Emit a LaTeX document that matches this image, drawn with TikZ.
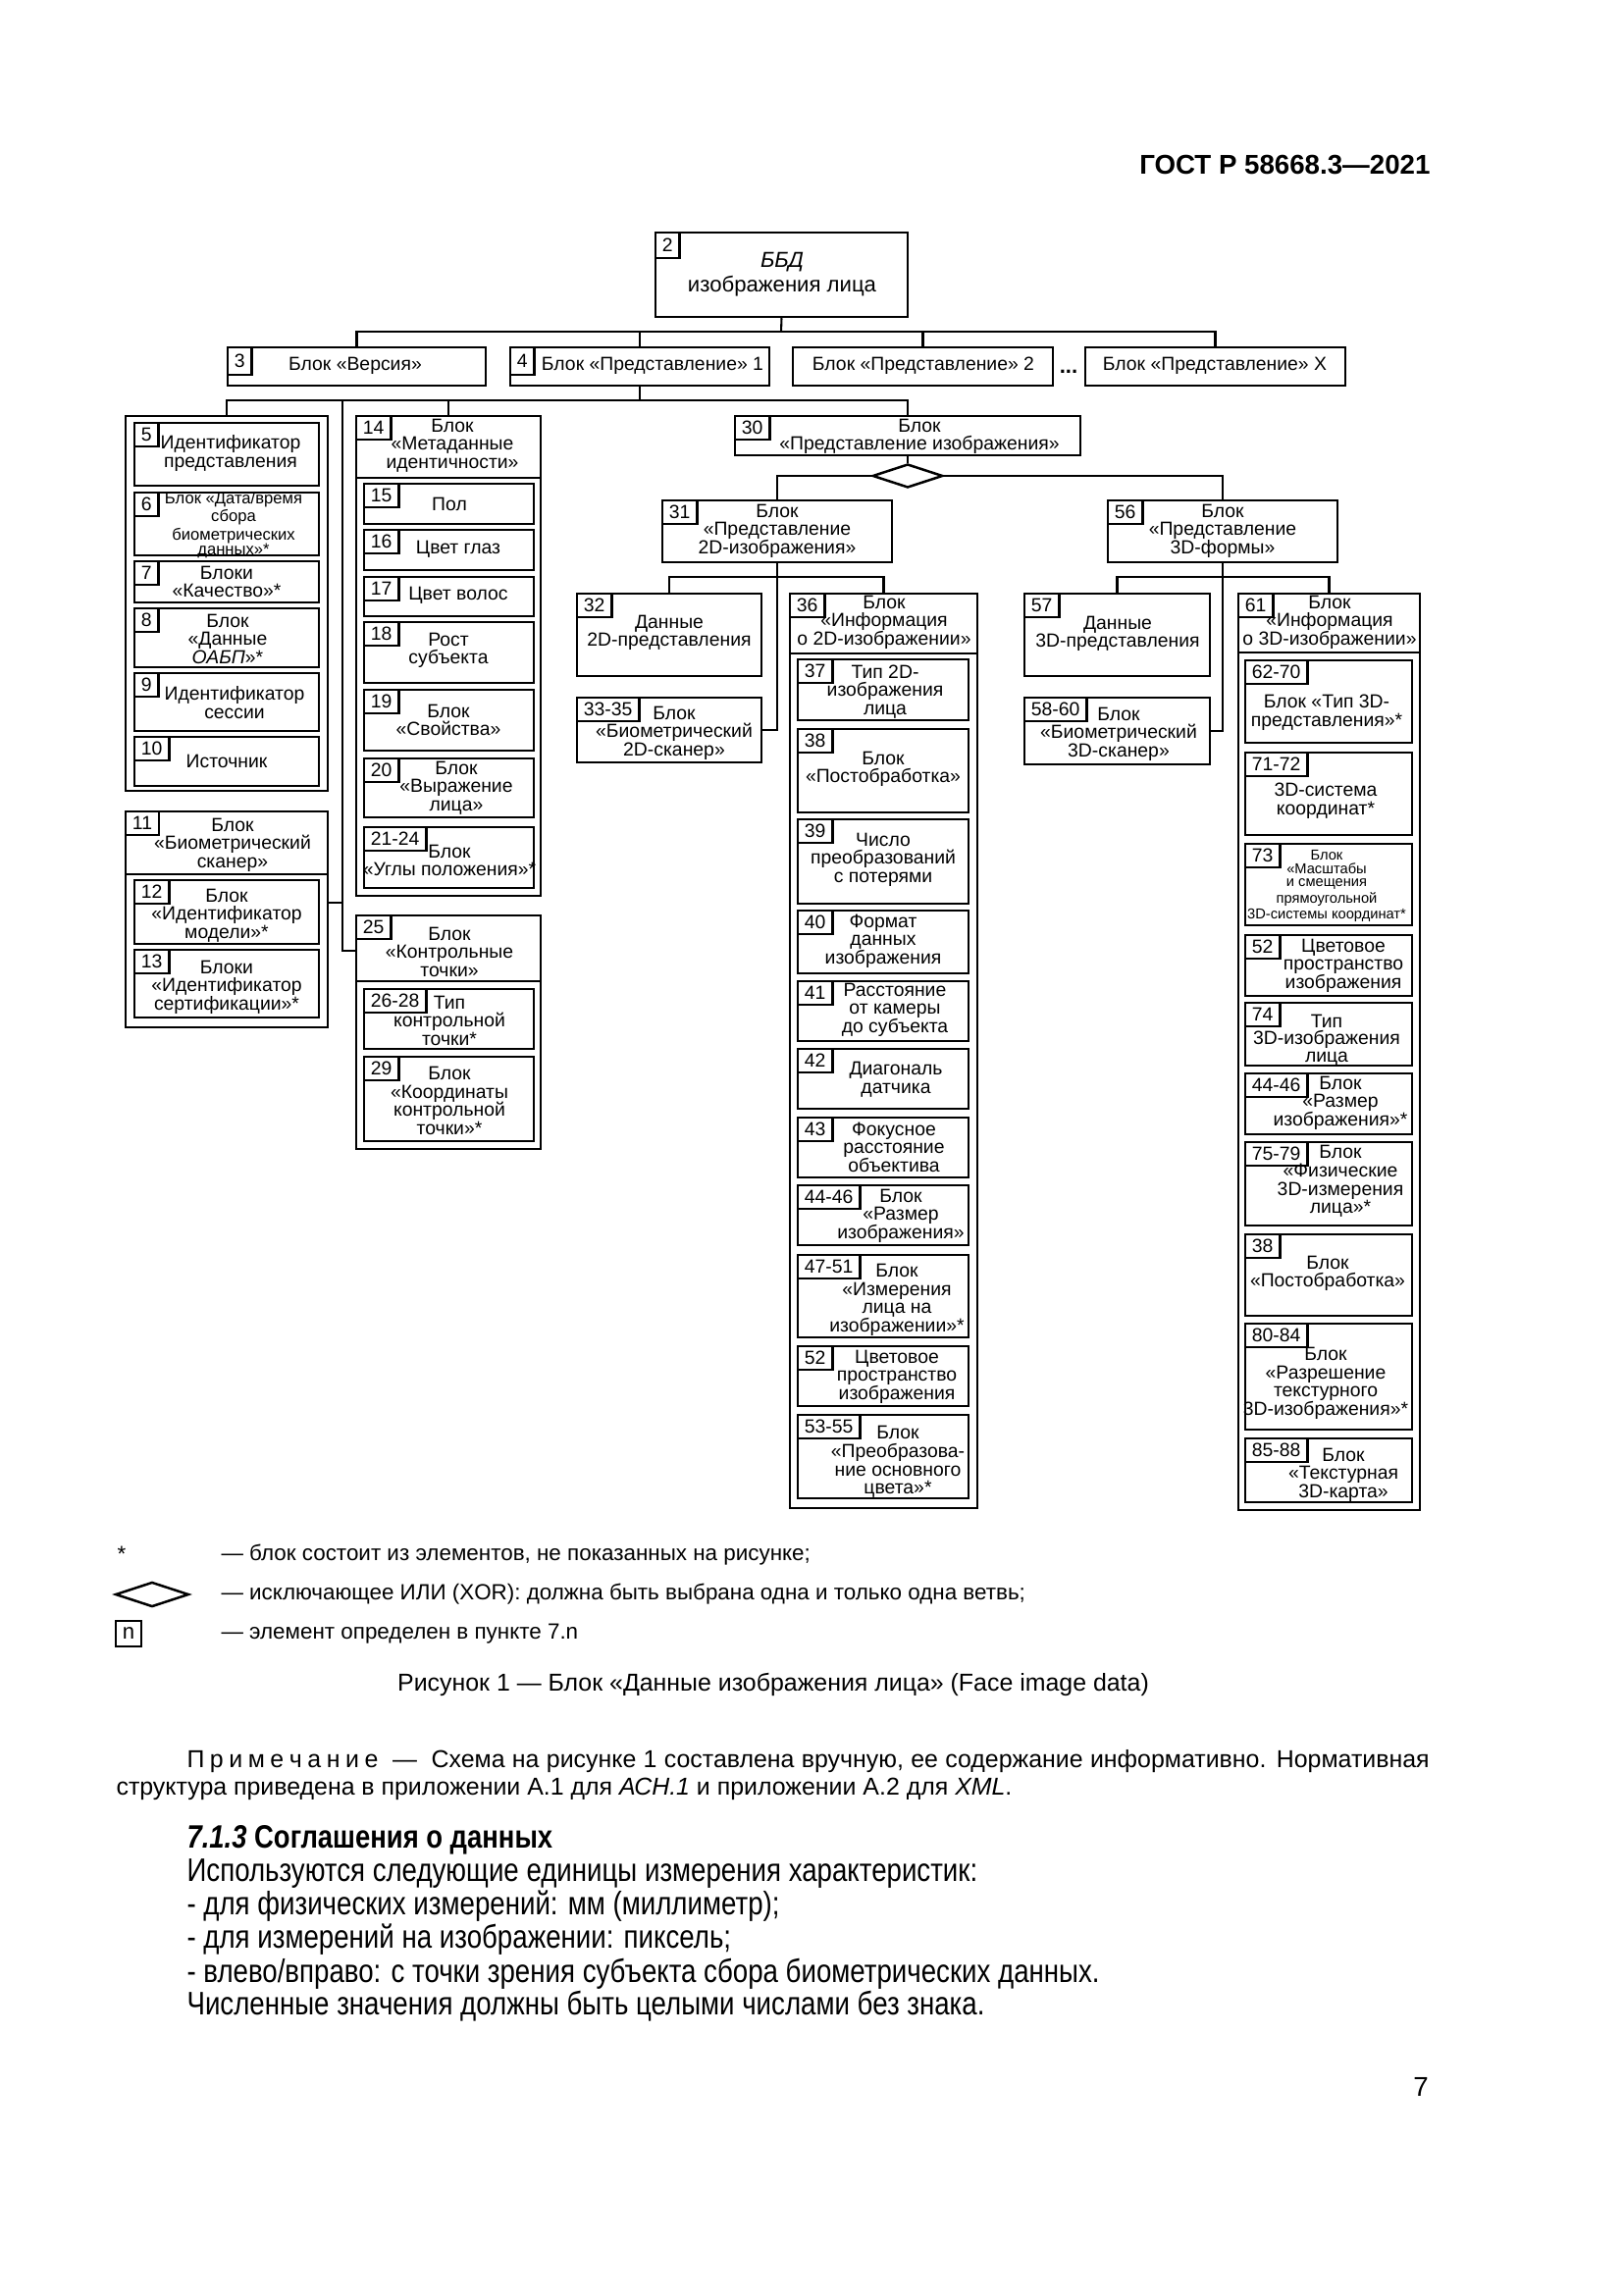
\documentclass[tikz,border=0pt]{standalone}
\usepackage{fontspec}
\setmainfont{Liberation Sans}
\newfontfamily\bodyfont{Liberation Sans}[FakeStretch=0.833]
\usetikzlibrary{fit,shapes.geometric}

\tikzset{
  box/.style={draw, line width=0.9pt, inner sep=0pt},
  tag/.style={draw, line width=0.9pt, anchor=north west, inner xsep=2.5pt, inner ysep=0pt, minimum height=3.05mm, font=\fontsize{7}{7}\selectfont},
  txt/.style={align=center, inner sep=0pt, font=\fontsize{7}{6.7}\selectfont},
  txtsmall/.style={align=center, inner sep=0pt, font=\fontsize{6}{5.4}\selectfont},
  txttiny/.style={align=center, inner sep=0pt, font=\fontsize{5.3}{4.8}\selectfont},
  link/.style={line width=0.75pt},
  xor/.style={draw, line width=0.9pt, shape=diamond, aspect=3, inner sep=0pt, minimum width=9.1mm, minimum height=3.05mm},
  legtext/.style={anchor=west, inner sep=0pt, font=\fontsize{8.1}{10}\selectfont},
  bodyline/.style={anchor=west, inner sep=0pt, font=\bodyfont\fontsize{12}{14}\selectfont},
}

\begin{document}
\begin{tikzpicture}[x=0.127mm, y=-0.127mm]
\useasboundingbox (0,0) rectangle (1654,2339);
\fill[white] (0,0) rectangle (1654,2339);

\node[anchor=east, inner sep=0pt, font=\bfseries\fontsize{10}{12}\selectfont] (hdr) at (1458,168) {ГОСТ Р 58668.3—2021};

\node[box, fit={(668,237) (925,323)}] (b2) {};
\node[tag, minimum height=3.3mm] (t2) at (b2.north west) {2};
\node[txt, font=\fontsize{8}{9}\selectfont] (l2) at (797,280) {\textit{ББД}\\изображения лица};

\node[box, fit={(232,354) (495,393)}] (b3) {};
\node[tag, minimum height=3.56mm] (t3) at (b3.north west) {3};
\node[txt] (l3) at (362,373) {Блок «Версия»};
\node[box, fit={(520,354) (784,393)}] (b4) {};
\node[tag, minimum height=3.56mm] (t4) at (b4.north west) {4};
\node[txt] (l4) at (665,373) {Блок «Представление» 1};
\node[box, fit={(808,354) (1073,393)}] (bR2) {};
\node[txt] (lR2) at (941,373) {Блок «Представление» 2};
\node[box, fit={(1106,354) (1371,393)}] (bRX) {};
\node[txt] (lRX) at (1238,373) {Блок «Представление» X};
\node[inner sep=0pt, font=\bfseries\fontsize{8}{8}\selectfont] (dots) at (1089,379) {...};

\coordinate (j1) at (796,338);
\draw[link] (b2.south) -- (j1);
\draw[link] (b3.north) |- (j1) -| (bRX.north);
\draw[link] (b4.north) -- (b4.north |- j1);
\draw[link] (bR2.north) -- (bR2.north |- j1);

\node[box, fit={(128,424) (334,806)}] (gA) {};
\node[box, fit={(137,431) (325,495)}] (b5) {};
\node[tag] (t5) at (b5.north west) {5};
\node[txt] (l5) at (235,462) {Идентификатор\\представления};
\node[box, fit={(137,502) (325,566)}] (b6) {};
\node[tag] (t6) at (b6.north west) {6};
\node[txtsmall] (l6) at (238,535) {Блок «Дата/время\\сбора\\биометрических\\данных»*};
\node[box, fit={(137,572) (325,614)}] (b7) {};
\node[tag] (t7) at (b7.north west) {7};
\node[txt] (l7) at (231,593) {Блоки\\«Качество»*};
\node[box, fit={(137,620) (325,680)}] (b8) {};
\node[tag] (t8) at (b8.north west) {8};
\node[txt] (l8) at (232,651) {Блок\\«Данные\\\textit{ОАБП}»*};
\node[box, fit={(137,686) (325,745)}] (b9) {};
\node[tag] (t9) at (b9.north west) {9};
\node[txt] (l9) at (239,716) {Идентификатор\\сессии};
\node[box, fit={(137,751) (325,801)}] (b10) {};
\node[tag] (t10) at (b10.north west) {10};
\node[txt] (l10) at (231,776) {Источник};

\node[box, fit={(363,424) (551,913)}] (gB) {};
\node[box, fit={(363,424) (551,487)}] (h14) {};
\node[tag] (t14) at (h14.north west) {14};
\node[txt] (l14) at (461,454) {Блок\\«Метаданные\\идентичности»};
\node[box, fit={(371,493) (544,534)}] (b15) {};
\node[tag] (t15) at (b15.north west) {15};
\node[txt] (l15) at (458,514) {Пол};
\node[box, fit={(371,540) (544,581)}] (b16) {};
\node[tag] (t16) at (b16.north west) {16};
\node[txt] (l16) at (467,560) {Цвет глаз};
\node[box, fit={(371,588) (544,628)}] (b17) {};
\node[tag] (t17) at (b17.north west) {17};
\node[txt] (l17) at (467,607) {Цвет волос};
\node[box, fit={(371,634) (544,696)}] (b18) {};
\node[tag] (t18) at (b18.north west) {18};
\node[txt] (l18) at (457,663) {Рост\\субъекта};
\node[box, fit={(371,703) (544,765)}] (b19) {};
\node[tag] (t19) at (b19.north west) {19};
\node[txt] (l19) at (457,734) {Блок\\«Свойства»};
\node[box, fit={(371,773) (544,833)}] (b20) {};
\node[tag] (t20) at (b20.north west) {20};
\node[txt] (l20) at (465,803) {Блок\\«Выражение\\лица»};
\node[box, fit={(371,843) (544,905)}] (b21) {};
\node[tag] (t21) at (b21.north west) {21-24};
\node[txt] (l21) at (458,877) {Блок\\«Углы положения»*};

\node[box, fit={(128,827) (334,1047)}] (gC) {};
\node[box, fit={(128,827) (334,891)}] (h11) {};
\node[tag] (t11) at (h11.north west) {11};
\node[txt] (l11) at (237,861) {Блок\\«Биометрический\\сканер»};
\node[box, fit={(137,897) (325,962)}] (b12) {};
\node[tag] (t12) at (b12.north west) {12};
\node[txt] (l12) at (231,933) {Блок\\«Идентификатор\\модели»*};
\node[box, fit={(137,968) (325,1037)}] (b13) {};
\node[tag] (t13) at (b13.north west) {13};
\node[txt] (l13) at (231,1006) {Блоки\\«Идентификатор\\сертификации»*};

\node[box, fit={(363,933) (551,1171)}] (gD) {};
\node[box, fit={(363,933) (551,1000)}] (h25) {};
\node[tag] (t25) at (h25.north west) {25};
\node[txt] (l25) at (458,970) {Блок\\«Контрольные\\точки»};
\node[box, fit={(371,1008) (544,1069)}] (b26) {};
\node[tag] (t26) at (b26.north west) {26-28};
\node[txt] (l26) at (458,1040) {Тип\\контрольной\\точки*};
\node[box, fit={(371,1077) (544,1163)}] (b29) {};
\node[tag] (t29) at (b29.north west) {29};
\node[txt] (l29) at (458,1122) {Блок\\«Координаты\\контрольной\\точки»*};

\node[box, fit={(749,424) (1101,464)}] (b30) {};
\node[tag] (t30) at (b30.north west) {30};
\node[txt] (l30) at (937,445) {Блок\\«Представление изображения»};

\coordinate (j2) at (652,408);
\coordinate (sp) at (349,408);
\draw[link] (b4.south) -- (j2);
\draw[link] (gA.north) |- (j2) -| (b30.north);
\draw[link] (gB.north) -- (gB.north |- j2);
\draw[link] (sp) |- (gC.east |- 0,920);
\draw[link] (sp) |- (gD.west |- 0,969);

\node[xor] (xor) at (925,485) {};
\draw[link] (b30.south) -- (xor.north);

\node[box, fit={(675,510) (909,573)}] (b31) {};
\node[tag] (t31) at (b31.north west) {31};
\node[txt] (l31) at (792,541) {Блок\\«Представление\\2D-изображения»};
\node[box, fit={(1129,510) (1363,573)}] (b56) {};
\node[tag] (t56) at (b56.north west) {56};
\node[txt] (l56) at (1246,541) {Блок\\«Представление\\3D-формы»};
\draw[link] (xor.west) -| (b31.north);
\draw[link] (xor.east) -| (b56.north);

\node[box, fit={(588,605) (776,689)}] (b32) {};
\node[tag] (t32) at (b32.north west) {32};
\node[txt] (l32) at (682,645) {Данные\\2D-представления};
\node[box, fit={(588,711) (776,777)}] (b33) {};
\node[tag] (t33) at (b33.north west) {33-35};
\node[txt] (l33) at (687,747) {Блок\\«Биометрический\\2D-сканер»};

\node[box, fit={(805,605) (996,1537)}] (gE) {};
\node[box, fit={(805,605) (996,666)}] (h36) {};
\node[tag] (t36) at (h36.north west) {36};
\node[txt] (l36) at (901,634) {Блок\\«Информация\\о 2D-изображении»};
\node[box, fit={(813,672) (987,734)}] (b37) {};
\node[tag] (t37) at (b37.north west) {37};
\node[txt] (l37) at (902,705) {Тип 2D-\\изображения\\лица};
\node[box, fit={(813,743) (987,828)}] (b38) {};
\node[tag] (t38) at (b38.north west) {38};
\node[txt] (l38) at (900,784) {Блок\\«Постобработка»};
\node[box, fit={(813,835) (987,921)}] (b39) {};
\node[tag] (t39) at (b39.north west) {39};
\node[txt] (l39) at (900,876) {Число\\преобразований\\с потерями};
\node[box, fit={(813,928) (987,992)}] (b40) {};
\node[tag] (t40) at (b40.north west) {40};
\node[txt] (l40) at (900,959) {Формат\\данных\\изображения};
\node[box, fit={(813,1000) (987,1061)}] (b41) {};
\node[tag] (t41) at (b41.north west) {41};
\node[txt] (l41) at (912,1029) {Расстояние\\от камеры\\до субъекта};
\node[box, fit={(813,1069) (987,1130)}] (b42) {};
\node[tag] (t42) at (b42.north west) {42};
\node[txt] (l42) at (913,1100) {Диагональ\\датчика};
\node[box, fit={(813,1139) (987,1200)}] (b43) {};
\node[tag] (t43) at (b43.north west) {43};
\node[txt] (l43) at (911,1169) {Фокусное\\расстояние\\объектива};
\node[box, fit={(813,1208) (987,1269)}] (b44) {};
\node[tag] (t44) at (b44.north west) {44-46};
\node[txt] (l44) at (918,1239) {Блок\\«Размер\\изображения»};
\node[box, fit={(813,1279) (987,1363)}] (b47) {};
\node[tag] (t47) at (b47.north west) {47-51};
\node[txt] (l47) at (914,1325) {Блок\\«Измерения\\лица на\\изображении»*};
\node[box, fit={(813,1372) (987,1433)}] (b52) {};
\node[tag] (t52) at (b52.north west) {52};
\node[txt] (l52) at (914,1403) {Цветовое\\пространство\\изображения};
\node[box, fit={(813,1442) (987,1527)}] (b53) {};
\node[tag] (t53) at (b53.north west) {53-55};
\node[txt] (l53) at (915,1490) {Блок\\«Преобразова-\\ние основного\\цвета»*};

\node[box, fit={(1044,605) (1233,689)}] (b57) {};
\node[tag] (t57) at (b57.north west) {57};
\node[txt] (l57) at (1139,646) {Данные\\3D-представления};
\node[box, fit={(1044,711) (1233,779)}] (b58) {};
\node[tag] (t58) at (b58.north west) {58-60};
\node[txt] (l58) at (1140,748) {Блок\\«Биометрический\\3D-сканер»};

\node[box, fit={(1262,605) (1447,1539)}] (gF) {};
\node[box, fit={(1262,605) (1447,665)}] (h61) {};
\node[tag] (t61) at (h61.north west) {61};
\node[txt] (l61) at (1355,634) {Блок\\«Информация\\о 3D-изображении»};
\node[box, fit={(1269,673) (1439,757)}] (b62) {};
\node[tag] (t62) at (b62.north west) {62-70};
\node[txt] (l62) at (1352,726) {Блок «Тип 3D-\\представления»*};
\node[box, fit={(1269,767) (1439,851)}] (b71) {};
\node[tag] (t71) at (b71.north west) {71-72};
\node[txt] (l71) at (1351,816) {3D-система\\координат*};
\node[box, fit={(1269,860) (1439,943)}] (b73) {};
\node[tag] (t73) at (b73.north west) {73};
\node[txttiny] (l73) at (1352,903) {Блок\\«Масштабы\\и смещения\\прямоугольной\\3D-системы координат*};
\node[box, fit={(1269,953) (1439,1015)}] (b52r) {};
\node[tag] (t52r) at (b52r.north west) {52};
\node[txt] (l52r) at (1369,984) {Цветовое\\пространство\\изображения};
\node[box, fit={(1269,1022) (1439,1086)}] (b74) {};
\node[tag] (t74) at (b74.north west) {74};
\node[txt, font=\fontsize{7}{6.3}\selectfont] (l74) at (1352,1060) {Тип\\3D-изображения\\лица};
\node[box, fit={(1269,1094) (1439,1156)}] (b44r) {};
\node[tag] (t44r) at (b44r.north west) {44-46};
\node[txt] (l44r) at (1366,1124) {Блок\\«Размер\\изображения»*};
\node[box, fit={(1269,1164) (1439,1249)}] (b75) {};
\node[tag] (t75) at (b75.north west) {75-79};
\node[txt] (l75) at (1366,1204) {Блок\\«Физические\\3D-измерения\\лица»*};
\node[box, fit={(1269,1258) (1439,1341)}] (b38r) {};
\node[tag] (t38r) at (b38r.north west) {38};
\node[txt] (l38r) at (1353,1298) {Блок\\«Постобработка»};
\node[box, fit={(1269,1349) (1439,1457)}] (b80) {};
\node[tag] (t80) at (b80.north west) {80-84};
\node[txt] (l80) at (1351,1410) {Блок\\«Разрешение\\текстурного\\3D-изображения»*};
\node[box, fit={(1269,1466) (1439,1531)}] (b85) {};
\node[tag] (t85) at (b85.north west) {85-88};
\node[txt] (l85) at (1369,1503) {Блок\\«Текстурная\\3D-карта»};

\coordinate (j31) at (792,588);
\coordinate (j56) at (1246,588);
\draw[link] (b31.south) |- (b33.east);
\draw[link] (b32.north) |- (j31) -| (gE.north);
\draw[link] (b56.south) |- (b58.east);
\draw[link] (b57.north) |- (j56) -| (gF.north);

\node[anchor=west, inner sep=0pt, font=\fontsize{8.1}{10}\selectfont] (star) at (119,1584) {*};
\node[legtext] (lg1) at (225,1585) {— блок состоит из элементов, не показанных на рисунке;};
\node[xor, minimum width=9.5mm, minimum height=3.2mm] (lxor) at (155,1625) {};
\node[legtext] (lg2) at (225,1625) {— исключающее ИЛИ (XOR): должна быть выбрана одна и только одна ветвь;};
\node[draw, line width=0.9pt, minimum size=3.3mm, inner sep=0pt, font=\fontsize{8}{8}\selectfont] (ln) at (131,1665) {n};
\node[legtext] (lg3) at (225,1665) {— элемент определен в пункте 7.n};

\node[inner sep=0pt, font=\fontsize{9}{11}\selectfont] (cap) at (788,1717) {Рисунок 1 — Блок «Данные изображения лица» (Face image data)};

\node[anchor=west, inner sep=0pt, font=\fontsize{9}{11}\selectfont] (note1) at (190,1795) {\makebox[160.8mm][s]{П\kern2pt р\kern2pt и\kern2pt м\kern2pt е\kern2pt ч\kern2pt а\kern2pt н\kern2pt и\kern2pt е\ \ — \ Схема на рисунке 1 составлена вручную, ее содержание информативно. Нормативная}};
\node[anchor=west, inner sep=0pt, font=\fontsize{9}{11}\selectfont] (note2) at (118,1823) {структура приведена в приложении А.1 для \textit{АСН.1} и приложении А.2 для \textit{XML}.};

\node[bodyline, font=\bodyfont\bfseries\fontsize{11.9}{14}\selectfont] (sec) at (190,1875) {\textit{7.1.3} Соглашения о данных};
\node[bodyline] (s1) at (190,1910) {Используются следующие единицы измерения характеристик:};
\node[bodyline] (s2) at (190,1943) {- для физических измерений: мм (миллиметр);};
\node[bodyline] (s3) at (190,1977) {- для измерений на изображении: пиксель;};
\node[bodyline] (s4) at (190,2012) {- влево/вправо: с точки зрения субъекта сбора биометрических данных.};
\node[bodyline] (s5) at (190,2045) {Численные значения должны быть целыми числами без знака.};

\node[inner sep=0pt, font=\fontsize{10}{12}\selectfont] (pg) at (1448,2127) {7};
\end{tikzpicture}
\end{document}
